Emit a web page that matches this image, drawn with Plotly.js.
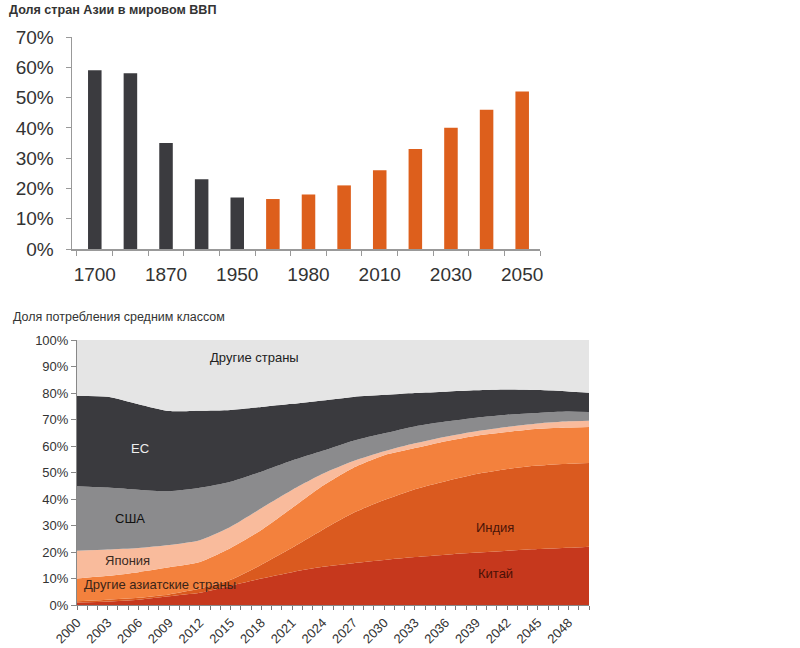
<!DOCTYPE html>
<html>
<head>
<meta charset="utf-8">
<script src="https://cdn.plot.ly/plotly-3.0.1.min.js"></script>
<style>html,body{margin:0;padding:0;background:#fff}#chart{width:800px;height:648px}</style>
</head>
<body>
<div id="chart"></div>
<script>
// ---- Top chart: share of Asian countries in world GDP (%) ----
const gdpCategories = ['1700','1820','1870','1913','1950','1965','1980','1995','2010','2020','2030','2040','2050'];
const gdpTickText   = ['1700','','1870','','1950','','1980','','2010','','2030','','2050'];
const gdpHistorical = [59, 58, 35, 23, 17, null, null, null, null, null, null, null, null];
const gdpForecast   = [null, null, null, null, null, 16.5, 18, 21, 26, 33, 40, 46, 52];

// ---- Bottom chart: share of middle-class consumption (%) ----
const years = [2000, 2003, 2006, 2009, 2012, 2015, 2018, 2021, 2024, 2027, 2030, 2033, 2036, 2039, 2042, 2045, 2048, 2050];
const china      = [0.9, 1.3, 2.0, 3.3, 4.6, 7.3, 10.0, 12.4, 14.4, 15.8, 17.0, 18.1, 19.0, 19.8, 20.5, 21.1, 21.6, 22.0];
const india      = [0.5, 0.7, 0.7, 0.7, 1.6, 2.2, 5.2, 9.2, 14.0, 19.0, 22.6, 25.6, 27.7, 29.6, 30.8, 31.5, 31.7, 31.6];
const otherAsia  = [8.6, 9.0, 9.7, 10.2, 10.0, 12.0, 13.1, 15.0, 16.6, 17.0, 16.9, 15.5, 15.1, 14.5, 14.0, 13.9, 13.7, 13.6];
const japan      = [10.5, 9.9, 9.1, 8.4, 8.2, 8.0, 8.2, 6.8, 4.5, 2.5, 1.5, 1.8, 1.7, 1.7, 1.9, 2.0, 2.3, 2.3];
const usa        = [24.3, 23.4, 22.0, 20.3, 19.8, 17.0, 13.8, 11.1, 8.7, 7.7, 6.8, 6.4, 5.7, 5.1, 4.6, 4.0, 3.7, 3.3];
const eu         = [34.2, 34.3, 32.3, 30.3, 29.1, 27.1, 24.4, 21.4, 19.0, 16.5, 14.5, 12.6, 11.3, 10.3, 9.5, 8.6, 7.6, 7.3];
const otherWorld = [21.0, 21.4, 24.2, 26.8, 26.7, 26.4, 25.3, 24.1, 22.8, 21.5, 20.7, 20.0, 19.5, 19.0, 18.7, 18.9, 19.4, 19.9];

const seriesNames = ['Китай', 'Индия', 'Другие азиатские страны', 'Япония', 'США', 'ЕС', 'Другие страны'];

const FONT = 'Liberation Sans, Arial, sans-serif';
const W = 800, H = 648;
const px = v => v / W;
const py = v => 1 - v / H;

const areaColors = ['#c6381d', '#da5a1f', '#f3813d', '#f9bb9c', '#8b8b8d', '#3a3a3e', '#e5e5e5'];
const areaSeries = [china, india, otherAsia, japan, usa, eu, otherWorld];

const traces = [
  {type: 'bar', x: gdpCategories, y: gdpHistorical, marker: {color: '#3b3b3f'}, xaxis: 'x', yaxis: 'y', showlegend: false, hoverinfo: 'skip'},
  {type: 'bar', x: gdpCategories, y: gdpForecast, marker: {color: '#dd5f1c'}, xaxis: 'x', yaxis: 'y', showlegend: false, hoverinfo: 'skip'}
];
areaSeries.forEach((s, i) => {
  traces.push({
    type: 'scatter', mode: 'lines', x: years, y: s, name: seriesNames[i],
    stackgroup: 'mc', line: {width: 0, shape: 'spline', smoothing: 0.6},
    fillcolor: areaColors[i], xaxis: 'x2', yaxis: 'y2', showlegend: false, hoverinfo: 'skip'
  });
});

function label(text, x, y, color, size, extra) {
  return Object.assign({
    text: text, xref: 'paper', yref: 'paper', x: px(x), y: py(y),
    xanchor: 'center', yanchor: 'middle', showarrow: false,
    font: {size: size || 13, color: color, family: FONT}
  }, extra || {});
}

const layout = {
  width: W, height: H,
  margin: {l: 0, r: 0, t: 0, b: 0},
  paper_bgcolor: '#fff', plot_bgcolor: 'rgba(0,0,0,0)',
  font: {family: FONT, color: '#333'},
  barmode: 'overlay', bargap: 0.62,
  showlegend: false,
  xaxis: {
    domain: [px(72), px(540)], anchor: 'y', type: 'category',
    range: [-0.64, 12.5], tickvals: gdpCategories, ticktext: gdpTickText, tickangle: 0,
    tickson: 'boundaries', ticks: 'outside', ticklen: 5, tickcolor: '#999',
    showline: true, linecolor: '#999', linewidth: 1.5, showgrid: false, zeroline: false,
    tickfont: {size: 19, color: '#333', family: FONT}, ticklabelstandoff: 8, fixedrange: true
  },
  yaxis: {
    domain: [py(249), py(37)], anchor: 'x', range: [0, 70], dtick: 10, ticksuffix: '%',
    ticks: 'outside', ticklen: 5, tickcolor: '#999', showline: true, linecolor: '#999', linewidth: 1.5,
    showgrid: false, zeroline: false, tickfont: {size: 19, color: '#333', family: FONT},
    ticklabelstandoff: 8, fixedrange: true
  },
  xaxis2: {
    domain: [px(77), px(589)], anchor: 'y2', range: [2000, 2050], tick0: 2000, dtick: 3,
    tickangle: -45, ticks: 'outside', ticklen: 4, tickcolor: '#777',
    minor: {dtick: 1, ticks: 'outside', ticklen: 4, tickcolor: '#777'},
    showline: true, linecolor: '#888', showgrid: false, zeroline: false,
    tickfont: {size: 13, color: '#333', family: FONT}, fixedrange: true
  },
  yaxis2: {
    domain: [py(605), py(340)], anchor: 'x2', range: [0, 100], dtick: 10, ticksuffix: '%',
    ticks: 'outside', ticklen: 5, tickcolor: '#888', showline: true, linecolor: '#888',
    showgrid: false, zeroline: false, tickfont: {size: 13, color: '#333', family: FONT}, fixedrange: true
  },
  annotations: [
    label('Доля стран Азии в мировом ВВП', 7, 10, '#333', 12.6, {xanchor: 'left', font: {size: 12.6, color: '#333', family: FONT, weight: 'bold'}}),
    label('Доля потребления средним классом', 11, 317, '#333', 12.5, {xanchor: 'left'}),
    label('Другие страны', 255, 357, '#222'),
    label('ЕС', 140, 448, '#eeeeee'),
    label('США', 130, 518, '#111'),
    label('Япония', 127, 560, '#3a2a22'),
    label('Другие азиатские страны', 160, 584, '#3a2418'),
    label('Индия', 495, 527, '#4a1408'),
    label('Китай', 495, 573, '#4a1006')
  ]
};

Plotly.newPlot('chart', traces, layout, {displayModeBar: false, staticPlot: true});
</script>
</body>
</html>
